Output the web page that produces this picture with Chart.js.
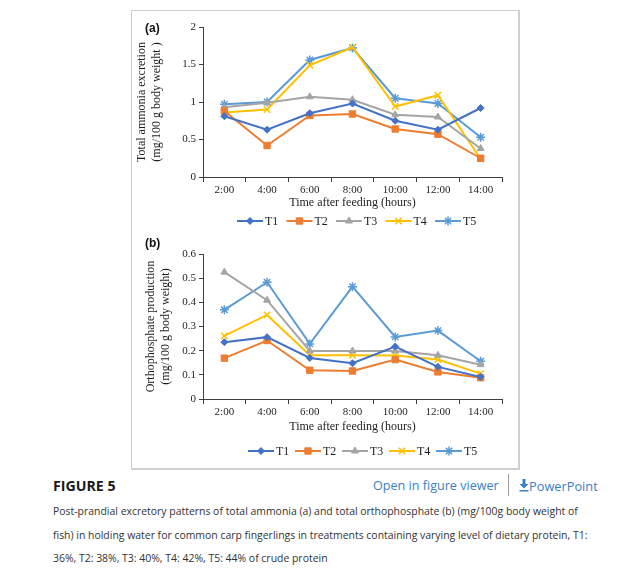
<!DOCTYPE html>
<html>
<head>
<meta charset="utf-8">
<script src="https://cdn.jsdelivr.net/npm/chart.js@4.4.1/dist/chart.umd.min.js"></script>
<style>
  html, body { margin:0; padding:0; background:#fff; width:640px; height:574px; overflow:hidden; }
  #box { position:absolute; left:131px; top:10px; width:386px; height:457px; border:1px solid #cfcfcf; border-right:2px solid #cfcfcf; border-bottom:2px solid #cfcfcf; }
  canvas { position:absolute; }
  .plabel { position:absolute; font-family:"Liberation Sans", Arial, sans-serif; font-weight:bold; font-size:12px; color:#111; }
  #fig { position:absolute; left:53px; top:476px; font-family:"Open Sans", sans-serif; font-weight:bold; font-size:14.2px; color:#1a1a1a; }
  #viewer { position:absolute; left:373px; top:477px; font-family:"Open Sans", sans-serif; font-size:12.6px; color:#3a7fbf; }
  #divider { position:absolute; left:508px; top:474px; width:1px; height:22px; background:#9a9a9a; }
  #ppt { position:absolute; left:519px; top:477px; font-family:"Open Sans", sans-serif; font-size:12.8px; color:#3a7fbf; }
  .cap { position:absolute; left:53px; font-family:"Open Sans", sans-serif; font-size:10.45px; color:#333; white-space:nowrap; }
</style>
</head>
<body>
<div id="box"></div>
<canvas id="chartA" width="386" height="221" style="left:132px; top:11px;"></canvas>
<canvas id="chartB" width="386" height="236" style="left:132px; top:232px;"></canvas>
<div class="plabel" style="left:145px; top:21px;">(a)</div>
<div class="plabel" style="left:145px; top:236px;">(b)</div>
<div id="fig">FIGURE 5</div>
<div id="viewer">Open in figure viewer</div>
<div id="divider"></div>
<div id="ppt"><svg width="10" height="13" viewBox="0 0 10 13" style="vertical-align:-1px"><path d="M3.5 0h3v5h3L5 9.5 0.5 5h3z" fill="#3a7fbf"/><rect x="0.5" y="11" width="9" height="1.5" fill="#3a7fbf"/></svg>PowerPoint</div>
<div class="cap" style="top:504px;">Post-prandial excretory patterns of total ammonia (a) and total orthophosphate (b) (mg/100g body weight of</div>
<div class="cap" style="top:528px;">fish) in holding water for common carp fingerlings in treatments containing varying level of dietary protein, T1:</div>
<div class="cap" style="top:551px;">36%, T2: 38%, T3: 40%, T4: 42%, T5: 44% of crude protein</div>
<script>
// ---------- data ----------
const timeLabels = ['2:00', '4:00', '6:00', '8:00', '10:00', '12:00', '14:00'];
const seriesNames = ['T1', 'T2', 'T3', 'T4', 'T5'];

// (a) Total ammonia excretion (mg/100 g body weight)
const ammoniaT1 = [0.81, 0.63, 0.85, 0.98, 0.75, 0.63, 0.92];
const ammoniaT2 = [0.88, 0.42, 0.82, 0.84, 0.64, 0.57, 0.25];
const ammoniaT3 = [0.93, 0.99, 1.07, 1.03, 0.83, 0.80, 0.38];
const ammoniaT4 = [0.86, 0.90, 1.49, 1.73, 0.94, 1.09, 0.24];
const ammoniaT5 = [0.97, 1.00, 1.56, 1.72, 1.05, 0.98, 0.53];
const ammoniaTicks = [0, 0.5, 1, 1.5, 2];

// (b) Orthophosphate production (mg/100 g body weight)
const phosphateT1 = [0.235, 0.256, 0.170, 0.148, 0.217, 0.133, 0.091];
const phosphateT2 = [0.169, 0.242, 0.119, 0.116, 0.163, 0.112, 0.088];
const phosphateT3 = [0.525, 0.409, 0.199, 0.199, 0.199, 0.181, 0.142];
const phosphateT4 = [0.261, 0.348, 0.181, 0.181, 0.180, 0.163, 0.105];
const phosphateT5 = [0.369, 0.483, 0.228, 0.465, 0.257, 0.283, 0.156];
const phosphateTicks = [0, 0.1, 0.2, 0.3, 0.4, 0.5, 0.6];

// ---------- styles ----------
const colors = ['#4472C4', '#ED7D31', '#A5A5A5', '#FFC000', '#5B9BD5'];
const markers = ['rectRot', 'rect', 'triangle', 'crossRot', 'star'];
const radii = [3.5, 4.5, 4, 4.5, 4.5];
const serif = '"Liberation Serif", "Times New Roman", serif';
const axisColor = '#3f3f3f';
const textColor = '#1e1e1e';

function makeDatasets(arrs) {
  return arrs.map((d, i) => ({
    label: seriesNames[i],
    data: d,
    borderColor: colors[i],
    backgroundColor: colors[i],
    borderWidth: 2,
    pointStyle: markers[i],
    pointRadius: radii[i],
    pointHoverRadius: radii[i],
    pointBorderWidth: (markers[i] === 'crossRot' || markers[i] === 'star') ? 1.5 : 1,
    pointBorderColor: colors[i],
    pointBackgroundColor: colors[i],
    tension: 0,
    fill: false
  }));
}

const lineLegend = {
  id: 'lineLegend',
  afterDraw(chart, args, opts) {
    const ctx = chart.ctx;
    ctx.save();
    chart.data.datasets.forEach((ds, i) => {
      const x0 = opts.x + i * opts.spacing;
      const y = opts.y;
      ctx.strokeStyle = ds.borderColor;
      ctx.lineWidth = 2;
      ctx.beginPath();
      ctx.moveTo(x0, y);
      ctx.lineTo(x0 + 26, y);
      ctx.stroke();
      const po = { pointStyle: ds.pointStyle, radius: ds.pointRadius, rotation: 0, borderWidth: ds.pointBorderWidth };
      ctx.fillStyle = ds.pointBackgroundColor;
      ctx.strokeStyle = ds.pointBorderColor;
      ctx.lineWidth = ds.pointBorderWidth;
      Chart.helpers.drawPoint(ctx, po, x0 + 13, y);
      ctx.fillStyle = textColor;
      ctx.font = '12px ' + serif;
      ctx.textBaseline = 'middle';
      ctx.textAlign = 'left';
      ctx.fillText(ds.label, x0 + 28, y + 0.5);
    });
    ctx.restore();
  }
};

function makeOptions(cfg) {
  return {
    responsive: false,
    animation: false,
    events: [],
    layout: { padding: { left: 0, right: 16, top: cfg.padTop, bottom: cfg.padBottom } },
    plugins: {
      legend: { display: false },
      tooltip: { enabled: false },
      lineLegend: cfg.legend
    },
    scales: {
      x: {
        type: 'category',
        offset: true,
        grid: { display: true, drawOnChartArea: false, drawTicks: true, tickLength: 5, offset: true, color: axisColor, lineWidth: 1 },
        border: { display: true, color: axisColor, width: 1 },
        ticks: { font: { family: serif, size: 11 }, color: textColor, padding: 2, maxRotation: 0, autoSkip: false },
        title: { display: true, text: 'Time after feeding (hours)', font: { family: serif, size: 12 }, color: textColor, padding: { top: 0, bottom: 3 } },
        afterFit: s => { s.height = cfg.xHeight; }
      },
      y: {
        min: 0,
        max: cfg.max,
        afterBuildTicks: s => { s.ticks = cfg.ticks.map(v => ({ value: v })); },
        grid: { display: true, drawOnChartArea: false, drawTicks: true, tickLength: 4, color: axisColor, lineWidth: 1 },
        border: { display: true, color: axisColor, width: 1 },
        ticks: { font: { family: serif, size: 11 }, color: textColor, padding: 3, callback: v => String(v) },
        title: { display: true, text: cfg.yTitle, font: { family: serif, size: 12, lineHeight: 1.2 }, color: textColor, padding: { top: cfg.yTitlePad, bottom: 0 } },
        afterFit: s => { s.width = 71; }
      }
    }
  };
}

new Chart(document.getElementById('chartA'), {
  type: 'line',
  data: { labels: timeLabels, datasets: makeDatasets([ammoniaT1, ammoniaT2, ammoniaT3, ammoniaT4, ammoniaT5]) },
  options: makeOptions({
    padTop: 16, padBottom: 19, max: 2, ticks: ammoniaTicks, xHeight: 36,
    yTitle: ['Total ammonia excretion', '(mg/100 g body weight )'], yTitlePad: 3,
    legend: { x: 105, spacing: 49.5, y: 210 }
  }),
  plugins: [lineLegend]
});

new Chart(document.getElementById('chartB'), {
  type: 'line',
  data: { labels: timeLabels, datasets: makeDatasets([phosphateT1, phosphateT2, phosphateT3, phosphateT4, phosphateT5]) },
  options: makeOptions({
    padTop: 22, padBottom: 31, max: 0.6, ticks: phosphateTicks, xHeight: 38,
    yTitle: ['Orthophosphate production', '(mg/100 g body weight)'], yTitlePad: 12,
    legend: { x: 116, spacing: 47, y: 219 }
  }),
  plugins: [lineLegend]
});
</script>
</body>
</html>
